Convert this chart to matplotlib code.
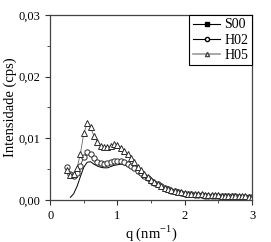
import matplotlib
matplotlib.use('Agg')
import matplotlib.pyplot as plt
from matplotlib.lines import Line2D
import numpy as np

plt.rcParams['font.family'] = ['Liberation Serif', 'DejaVu Serif']
plt.rcParams['mathtext.fontset'] = 'custom'
plt.rcParams['mathtext.rm'] = 'Liberation Serif'

# q values (nm^-1), step 0.05 from 0.25 to 3.00
q = np.round(np.arange(0.25, 3.001, 0.05), 2)

h05 = [0.0048, 0.0040, 0.0042, 0.0052, 0.0075, 0.0108, 0.0124, 0.0118, 0.0104, 0.0094,
       0.0088, 0.0086, 0.0086, 0.0088, 0.0090, 0.0089, 0.0085, 0.0080, 0.0074, 0.0068,
       0.0061, 0.0054, 0.0048, 0.0042, 0.0037, 0.0033, 0.0029, 0.0026, 0.0023, 0.0020,
       0.0018, 0.0016, 0.0014, 0.0013, 0.0012, 0.0011, 0.0010, 0.0010, 0.0009, 0.0009,
       0.0009, 0.0008, 0.0008, 0.0008, 0.0008, 0.0008, 0.0007, 0.0007, 0.0007, 0.0007,
       0.0006, 0.0006, 0.0006, 0.0006, 0.0005, 0.0005]

h02 = [0.0054, 0.0042, 0.0038, 0.0043, 0.0055, 0.0070, 0.0077, 0.0075, 0.0068, 0.0062,
       0.0060, 0.0059, 0.0060, 0.0061, 0.0063, 0.0063, 0.0063, 0.0061, 0.0058, 0.0055,
       0.0051, 0.0047, 0.0043, 0.0039, 0.0035, 0.0031, 0.0028, 0.0025, 0.0022, 0.0020,
       0.0017, 0.0015, 0.0014, 0.0012, 0.0011, 0.0010, 0.0009, 0.0009, 0.0008, 0.0008,
       0.0008, 0.0007, 0.0007, 0.0007, 0.0007, 0.0007, 0.0006, 0.0006, 0.0006, 0.0006,
       0.0006, 0.0005, 0.0005, 0.0005, 0.0005, 0.0005]

# S00 starts at q = 0.30
s00 = [0.0004, 0.0010, 0.0022, 0.0038, 0.0053, 0.0061, 0.0062, 0.0058, 0.0055,
       0.0053, 0.0052, 0.0052, 0.0054, 0.0056, 0.0057, 0.0058, 0.0057, 0.0055, 0.0052,
       0.0049, 0.0045, 0.0041, 0.0037, 0.0034, 0.0030, 0.0027, 0.0024, 0.0021, 0.0019,
       0.0017, 0.0015, 0.0013, 0.0012, 0.0011, 0.0010, 0.0009, 0.0009, 0.0008, 0.0008,
       0.0007, 0.0007, 0.0007, 0.0007, 0.0006, 0.0006, 0.0006, 0.0006, 0.0006, 0.0005,
       0.0005, 0.0005, 0.0005, 0.0005, 0.0005, 0.0004]

fig = plt.figure(figsize=(2.71, 2.42), dpi=100)
ax = fig.add_axes([0.185, 0.174, 0.745, 0.764])

ax.plot(q[1:], s00, color='black', lw=0.7)
ax.plot(q, h02, color='#333333', lw=0.6, marker='o', ms=3.8, mfc='white',
        mec='#2a2a2a', mew=0.7)
ax.plot(q, h05, color='#666666', lw=0.6, marker='^', ms=3.8, mfc='white',
        mec='#2a2a2a', mew=0.7)

ax.set_xlim(0, 3)
ax.set_ylim(0, 0.03)
ax.set_xticks([0, 1, 2, 3])
ax.set_xticks([0.5, 1.5, 2.5], minor=True)
ax.set_yticks([0, 0.01, 0.02, 0.03])
ax.set_yticks([0.005, 0.015, 0.025], minor=True)
ax.set_yticklabels(['0,00', '0,01', '0,02', '0,03'])
ax.tick_params(which='major', direction='out', length=3.5, width=0.8, labelsize=9,
               color='#333333')
ax.tick_params(which='minor', direction='out', length=2, width=0.6, color='#333333')
for s in ax.spines.values():
    s.set_color('#444444')
    s.set_linewidth(0.9)

ax.set_xlabel('q (nm$^{-1}$)', fontsize=10.5, labelpad=1)
ax.set_ylabel('Intensidade (cps)', fontsize=10.5, labelpad=1)

handles = [
    Line2D([], [], color='black', lw=0.8, marker='s', ms=2.5, mfc='black'),
    Line2D([], [], color='black', lw=0.8, marker='o', ms=3, mfc='white'),
    Line2D([], [], color='#999999', lw=1.2, marker='^', ms=3, mfc='white', mec='#444444'),
]
leg = ax.legend(handles, ['S00', 'H02', 'H05'], loc='upper right', fontsize=10,
                frameon=True, fancybox=False, edgecolor='black', framealpha=1,
                borderaxespad=0, handlelength=2.0, handletextpad=0.3,
                borderpad=0.25, labelspacing=0.15)
leg.get_frame().set_linewidth(0.8)

fig.savefig('out.png', dpi=100)
